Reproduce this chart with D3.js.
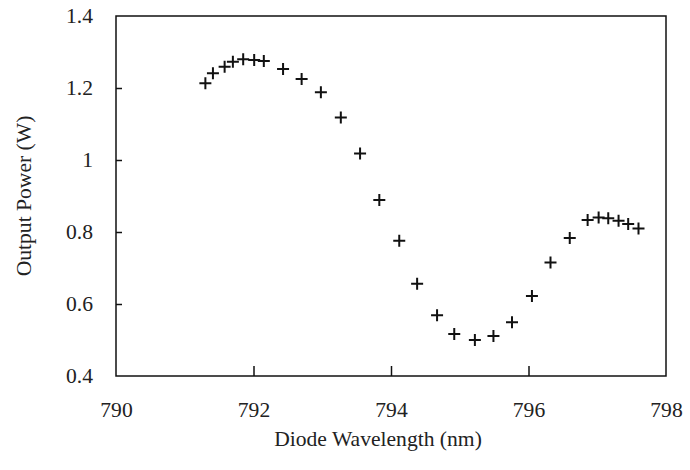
<!DOCTYPE html>
<html>
<head>
<meta charset="utf-8">
<script src="https://d3js.org/d3.v7.min.js"></script>
<style>
  body { margin: 0; background: white; }
  svg { display: block; }
</style>
</head>
<body>
<svg id="main_canvas" width=690 height=470></svg>

<script>
  "use strict";
  const WIDTH = 690;
  const HEIGHT = 470;

  // data
  const wavelengths = [791.30, 791.41, 791.58, 791.70, 791.85, 792.01, 792.15, 792.43, 792.70, 792.98,
    793.27, 793.55, 793.83, 794.12, 794.38, 794.67, 794.92, 795.22, 795.49, 795.76,
    796.05, 796.32, 796.60, 796.86, 797.02, 797.16, 797.31, 797.45, 797.60];
  const powers = [1.213, 1.241, 1.259, 1.273, 1.280, 1.278, 1.275, 1.253, 1.225, 1.188,
    1.118, 1.018, 0.889, 0.776, 0.656, 0.569, 0.517, 0.500, 0.511, 0.549,
    0.622, 0.715, 0.783, 0.833, 0.840, 0.838, 0.831, 0.822, 0.810];
  const xTicks = [790, 792, 794, 796, 798];
  const yTicks = [0.4, 0.6, 0.8, 1.0, 1.2, 1.4];

  const LEFT = 116, RIGHT = 666, TOP = 16, BOTTOM = 376;
  const FONT = "'Liberation Serif', 'Times New Roman', serif";
  const FS = 20;
  const STRETCH = 1.08; // the scanned type is a bit wide

  const svg = d3.select("#main_canvas");

  svg.append("rect")
    .attr("width", WIDTH)
    .attr("height", HEIGHT)
    .attr("fill", "white");

  const x = d3.scaleLinear().domain([790, 798]).range([LEFT, RIGHT]);
  const y = d3.scaleLinear().domain([0.4, 1.4]).range([BOTTOM, TOP]);

  // frame
  svg.append("rect")
    .attr("x", LEFT)
    .attr("y", TOP)
    .attr("width", RIGHT - LEFT)
    .attr("height", BOTTOM - TOP)
    .attr("fill", "none")
    .attr("stroke", "#111")
    .attr("stroke-width", 1.5);

  // bottom axis, ticks pointing inward
  const xAxis = svg.append("g")
    .attr("transform", `translate(0,${BOTTOM})`)
    .call(d3.axisBottom(x).tickValues(xTicks).tickSizeInner(-10).tickSizeOuter(0).tickPadding(27)
      .tickFormat(d3.format("d")));
  xAxis.select(".domain").remove();
  xAxis.selectAll(".tick line").attr("stroke", "#111").attr("stroke-width", 1.5)
    .filter(d => d === 790 || d === 798).remove();
  xAxis.selectAll("text")
    .attr("font-family", FONT)
    .attr("font-size", FS)
    .attr("fill", "#222")
    .attr("transform", `scale(${STRETCH},1)`);

  // left axis
  const Y_PAD = 23;
  const yAxis = svg.append("g")
    .attr("transform", `translate(${LEFT},0)`)
    .call(d3.axisLeft(y).tickValues(yTicks).tickSizeInner(-6).tickSizeOuter(0).tickPadding(Y_PAD)
      .tickFormat(d => d === 1 ? "1" : d3.format(".1f")(d)));
  yAxis.select(".domain").remove();
  yAxis.selectAll(".tick line").attr("stroke", "#111").attr("stroke-width", 1.5)
    .filter(d => d === 0.4 || d === 1.4).remove();
  yAxis.selectAll("text")
    .attr("font-family", FONT)
    .attr("font-size", FS)
    .attr("fill", "#222")
    .attr("x", -Y_PAD / STRETCH)
    .attr("transform", `scale(${STRETCH},1)`);

  // axis titles
  svg.append("text")
    .attr("transform", `translate(${(LEFT + RIGHT) / 2 - 13},446) scale(${STRETCH},1)`)
    .attr("text-anchor", "middle")
    .attr("font-family", FONT)
    .attr("font-size", FS)
    .attr("fill", "#222")
    .text("Diode Wavelength (nm)");

  svg.append("text")
    .attr("transform", `translate(31,${(TOP + BOTTOM) / 2}) rotate(-90) scale(${STRETCH},1)`)
    .attr("text-anchor", "middle")
    .attr("font-family", FONT)
    .attr("font-size", FS)
    .attr("fill", "#222")
    .text("Output Power (W)");

  // plus markers
  const pts = wavelengths.map((w, i) => [w, powers[i]]);
  const S = 6;
  svg.append("g")
    .selectAll("path")
    .data(pts)
    .enter()
    .append("path")
    .attr("d", d => {
      const px = x(d[0]), py = y(d[1]);
      return `M${px - S},${py}H${px + S}M${px},${py - S}V${py + S}`;
    })
    .attr("stroke", "#111")
    .attr("stroke-width", 2)
    .attr("fill", "none");
</script>
</body>
</html>
